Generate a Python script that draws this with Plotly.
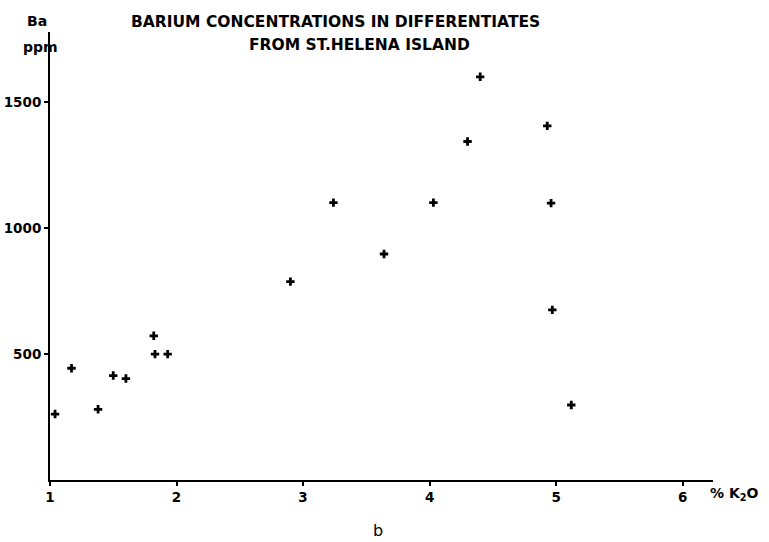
import plotly.graph_objects as go

# Barium content vs K2O for the St. Helena differentiates
k2o_pct = [1.04, 1.17, 1.38, 1.50, 1.60, 1.82, 1.83, 1.93,
           2.90, 3.24, 3.64, 4.03, 4.30, 4.40, 4.93, 4.96, 4.97, 5.12]
ba_ppm = [262, 444, 281, 415, 403, 573, 500, 500,
          788, 1102, 898, 1102, 1345, 1602, 1407, 1100, 676, 298]

x_ticks = [1, 2, 3, 4, 5, 6]
y_ticks = [500, 1000, 1500]

font_family = "DejaVu Sans"

fig = go.Figure()
fig.add_trace(go.Scatter(
    x=k2o_pct, y=ba_ppm, mode="markers",
    marker=dict(symbol="cross", size=7, color="black",
                line=dict(width=0)),
    hoverinfo="x+y", showlegend=False,
))

axis_common = dict(
    showline=True, linecolor="black", linewidth=2,
    showgrid=False, zeroline=False, automargin=False,
    ticks="outside", ticklen=4, tickwidth=1.5, tickcolor="black",
    tickfont=dict(family=font_family, size=13.5, color="black", weight="bold"),
)

L, R, T, B = 50, 56, 32, 62
W, H = 769, 542

fig.update_layout(
    width=W, height=H,
    margin=dict(l=L, r=R, t=T, b=B),
    paper_bgcolor="white", plot_bgcolor="white",
    xaxis=dict(range=[1, 6.24], tickvals=x_ticks,
               ticktext=[str(v) for v in x_ticks], **axis_common),
    yaxis=dict(range=[0, 1780], tickvals=y_ticks,
               ticktext=[str(v) for v in y_ticks], **axis_common),
    font=dict(family=font_family, color="black"),
)

title_font = dict(family=font_family, size=15.5, color="black", weight="bold")
label_font = dict(family=font_family, size=14, color="black", weight="bold")
annotations = [
    dict(text="BARIUM CONCENTRATIONS IN DIFFERENTIATES",
         x=335.5, y=22, font=title_font),
    dict(text="FROM ST.HELENA ISLAND", x=359, y=45, font=title_font),
    dict(text="Ba", x=37, y=21, font=label_font),
    dict(text="ppm", x=40, y=47, font=label_font),
    dict(text="% K<sub>2</sub>O", x=734, y=494, font=label_font),
    dict(text="b", x=378, y=530,
         font=dict(family=font_family, size=16, color="black")),
]

# text labels are given by pixel position on the page, mapped to the plot frame
pw, ph = W - L - R, H - T - B
for a in annotations:
    fig.add_annotation(
        text=a["text"],
        x=(a["x"] - L) / pw, y=(H - B - a["y"]) / ph,
        xref="paper", yref="paper", showarrow=False,
        xanchor="center", yanchor="middle", font=a["font"],
    )

fig.write_html("out.html")
